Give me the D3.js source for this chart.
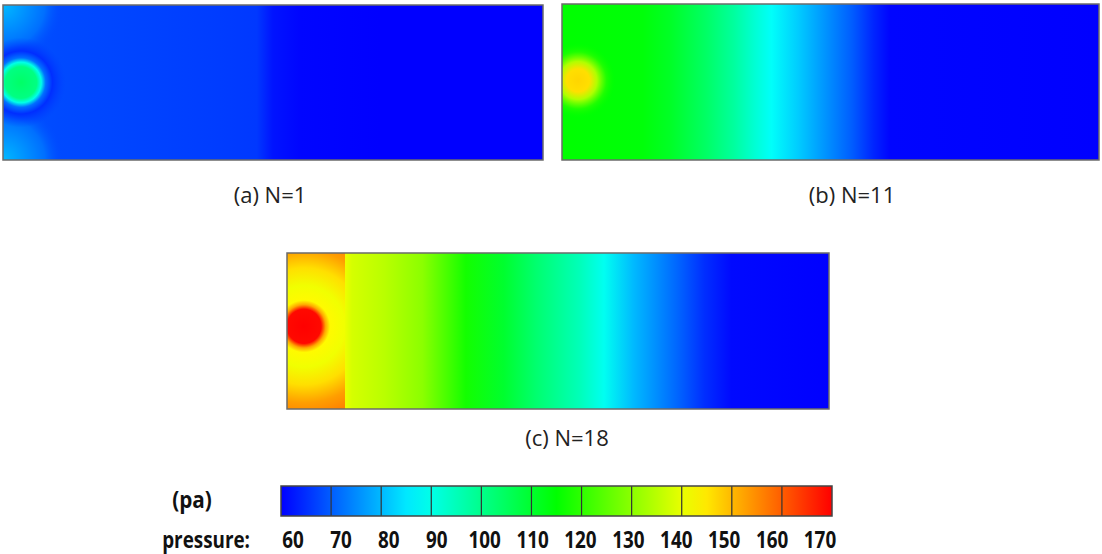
<!DOCTYPE html>
<html>
<head>
<meta charset="utf-8">
<script src="https://cdn.jsdelivr.net/npm/d3@7"></script>
<style>
  body { margin: 0; background: #fff; }
  text { font-family: "Open Sans", "Noto Sans", sans-serif; }
</style>
</head>
<body>
<svg id="chart" width="1102" height="554"></svg>
<script>
// pressure read along the channel (station = fraction of length), pa
var stationsA = [0, 0.1, 0.2, 0.3, 0.4, 0.47, 0.5, 0.55, 0.7, 1]
  , pressureA = [69, 68, 67.5, 67, 66.5, 66, 62, 60.5, 60, 60]
  , stationsB = [0, 0.15, 0.2, 0.27, 0.32, 0.36, 0.39, 0.44, 0.49, 0.54, 0.58, 0.61, 1]
  , pressureB = [115, 114, 111, 104, 98, 92, 88, 82, 76, 70, 64, 60.5, 60]
  , stationsC = [0.105, 0.12, 0.18, 0.25, 0.33, 0.4, 0.46, 0.54, 0.585, 0.64, 0.72, 0.77, 0.82, 1]
  , pressureC = [141, 138, 135, 130, 117, 110, 103, 95, 89, 80, 71, 65, 61, 60]

// inlet spot: radial profile (fraction of radius -> pressure)
var spotStopsA = [0, 0.35, 0.45, 0.55, 0.7, 1]
  , spotValuesA = [104, 101, 90, 72, 65, 67]
  , spotStopsB = [0, 0.3, 0.5, 0.75, 1]
  , spotValuesB = [147, 146, 134, 119, 115]
  , spotStopsC = [0, 0.19, 0.24, 0.29, 0.45, 0.65, 0.85, 1]
  , spotValuesC = [170, 169, 152, 143, 141, 146, 153, 156]

var captions = ['(a) N=1', '(b) N=11', '(c) N=18']
  , legendTicks = [60, 70, 80, 90, 100, 110, 120, 130, 140, 150, 160, 170]

var svg = d3.select('svg#chart')
  , defs = svg.append('defs')

var hue = d3.scaleLinear().domain([60, 170]).range([240, 0]).clamp(true)
var color = function(p) { return d3.hsl(hue(p), 1, 0.5).toString() }

var gradId = 0
var linearGrad = function(stations, values) {
  var id = 'lg' + (gradId++)
  var g = defs.append('linearGradient').attr('id', id)
    .attr('x1', 0).attr('x2', 1).attr('y1', 0).attr('y2', 0)
  g.selectAll('stop').data(stations).enter().append('stop')
    .attr('offset', function(d) { return d })
    .attr('stop-color', function(d, i) { return color(values[i]) })
  return 'url(#' + id + ')'
}

var radialGrad = function(stops, values, fadeOut) {
  var id = 'rg' + (gradId++)
  var g = defs.append('radialGradient').attr('id', id)
  g.selectAll('stop').data(stops).enter().append('stop')
    .attr('offset', function(d) { return d })
    .attr('stop-color', function(d, i) { return color(values[i]) })
    .attr('stop-opacity', function(d, i) {
      if (!fadeOut) return 1
      return d < 0.7 ? 1 : 1 - (d - 0.7) / 0.3
    })
  return 'url(#' + id + ')'
}

var panels = [
  {x: 3, y: 5, w: 540, h: 155, stations: stationsA, values: pressureA,
   spot: {cx: 18, cy: 0.5, r: 45, stops: spotStopsA, values: spotValuesA},
   capX: 270, capY: 203},
  {x: 562, y: 4, w: 537, h: 156, stations: stationsB, values: pressureB,
   spot: {cx: 16, cy: 0.49, r: 38, stops: spotStopsB, values: spotValuesB},
   capX: 852, capY: 203},
  {x: 287, y: 253, w: 542, h: 156, stations: stationsC, values: pressureC,
   spot: {cx: 17, cy: 0.47, r: 90, stops: spotStopsC, values: spotValuesC},
   block: 58, capX: 567, capY: 446}
]

panels.forEach(function(p, i) {
  var g = svg.append('g').attr('transform', 'translate(' + p.x + ',' + p.y + ')')
  var clipId = 'clip' + i
  defs.append('clipPath').attr('id', clipId)
    .append('rect').attr('width', p.w).attr('height', p.h)
  var body = g.append('g').attr('clip-path', 'url(#' + clipId + ')')

  body.append('rect').attr('width', p.w).attr('height', p.h)
    .attr('fill', linearGrad(p.stations, p.values))

  if (p.block) {
    // inlet chamber: own radial field, sharp edge against the channel
    var bg = defs.append('radialGradient').attr('id', 'blk' + i)
      .attr('gradientUnits', 'userSpaceOnUse')
      .attr('cx', p.spot.cx).attr('cy', p.spot.cy * p.h).attr('r', p.spot.r)
    bg.selectAll('stop').data(p.spot.stops).enter().append('stop')
      .attr('offset', function(d) { return d })
      .attr('stop-color', function(d, k) { return color(p.spot.values[k]) })
    body.append('rect').attr('width', p.block).attr('height', p.h)
      .attr('fill', 'url(#blk' + i + ')')
  } else {
    if (i === 0) {
      // lighter corners at the inlet wall
      var corner = radialGrad([0, 0.7, 1], [80, 72, 68], true)
      body.selectAll('circle.corner').data([0, p.h]).enter().append('circle')
        .attr('cx', 0).attr('cy', function(d) { return d }).attr('r', 60)
        .attr('fill', corner)
    }
    body.append('circle')
      .attr('cx', p.spot.cx).attr('cy', p.spot.cy * p.h).attr('r', p.spot.r)
      .attr('fill', radialGrad(p.spot.stops, p.spot.values, true))
  }

  g.append('rect').attr('width', p.w).attr('height', p.h)
    .attr('fill', 'none').attr('stroke', '#6b6b6b').attr('stroke-width', 1.5)

  svg.append('text').attr('x', p.capX).attr('y', p.capY)
    .attr('text-anchor', 'middle').attr('font-size', 22).attr('fill', '#222')
    .text(captions[i])
})

// colour legend
var bar = {x: 281, y: 486, w: 551, h: 30}
var lx = d3.scaleLinear().domain([60, 170]).range([0, bar.w])
var lg = svg.append('g').attr('transform', 'translate(' + bar.x + ',' + bar.y + ')')

var legendStops = d3.range(60, 171, 5)
lg.append('rect').attr('width', bar.w).attr('height', bar.h)
  .attr('fill', linearGrad(legendStops.map(function(v) { return (v - 60) / 110 }), legendStops))

lg.selectAll('line.div').data(legendTicks.slice(1, -1)).enter().append('line')
  .attr('x1', function(d) { return lx(d) }).attr('x2', function(d) { return lx(d) })
  .attr('y1', 0).attr('y2', bar.h)
  .attr('stroke', '#333').attr('stroke-width', 1.2)

lg.append('rect').attr('width', bar.w).attr('height', bar.h)
  .attr('fill', 'none').attr('stroke', '#444').attr('stroke-width', 1.5)

// narrow bold labels, like the original's condensed font
var tx = d3.scalePoint().domain(legendTicks).range([293, 820])
svg.selectAll('text.tick').data(legendTicks).enter().append('text')
  .attr('transform', function(d) { return 'translate(' + tx(d) + ',548) scale(0.82,1)' })
  .attr('text-anchor', 'middle').attr('font-size', 23).attr('font-weight', 700)
  .attr('fill', '#111')
  .text(function(d) { return d })

svg.append('text').attr('transform', 'translate(250,548) scale(0.82,1)')
  .attr('text-anchor', 'end')
  .attr('font-size', 23).attr('font-weight', 700).attr('fill', '#111')
  .text('pressure:')

svg.append('text').attr('transform', 'translate(192,508) scale(0.9,1)')
  .attr('text-anchor', 'middle')
  .attr('font-size', 23).attr('font-weight', 700).attr('fill', '#111')
  .text('(pa)')
</script>
</body>
</html>
